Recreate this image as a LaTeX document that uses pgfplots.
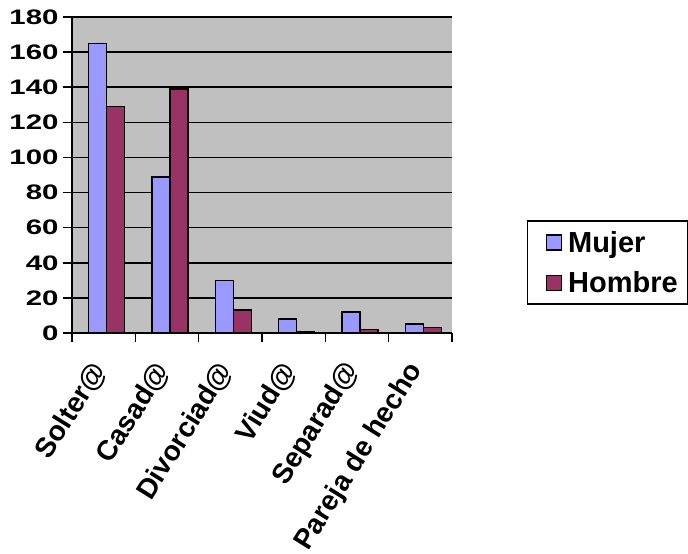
\documentclass[border=0pt]{standalone}
\usepackage{pgfplots}
\pgfplotsset{compat=1.18}
\usepackage{fontspec}
\setmainfont{Liberation Sans}
\newfontfamily\tickfont[FakeStretch=1.4,BoldFont={Liberation Sans Bold}]{Liberation Sans}
\definecolor{mujer}{HTML}{9999FF}
\definecolor{hombre}{HTML}{993366}
\definecolor{wall}{HTML}{C0C0C0}
\begin{document}
\begin{tikzpicture}
\begin{axis}[
  scale only axis,
  width=380pt, height=316pt,
  xmin=-0.5, xmax=5.5,
  ymin=0, ymax=180,
  ytick={0,20,...,180},
  xtick={0,1,2,3,4,5},
  xticklabels={Solter@,Casad@,Divorciad@,Viud@,Separad@,Pareja de hecho},
  minor xtick={-0.5,0.5,1.5,2.5,3.5,4.5,5.5},
  major x tick style={draw=none},
  minor tick length=9pt,
  major tick length=9pt,
  tick align=outside,
  tick style={black, line width=1.5pt},
  axis background/.style={fill=wall},
  axis x line*=bottom, axis y line*=left,
  axis line style={black, line width=1.5pt},
  ymajorgrids, grid style={black, line width=1.5pt},
  /pgf/number format/assume math mode=true,
  yticklabel style={font=\tickfont\bfseries\fontsize{21}{21}\selectfont, xshift=-1pt},
  xticklabel style={font=\bfseries\fontsize{28}{28}\selectfont, xshift=-2pt, yshift=-21pt, rotate=58, anchor=east},
  ybar, bar width=18pt,
  legend style={at={(1.197,0.089)}, anchor=south west, draw=black, line width=1.5pt,
    font=\bfseries\fontsize{29}{29}\selectfont, row sep=14pt, inner xsep=6pt, inner ysep=8pt,
    nodes={inner xsep=4pt}},
  legend cell align=left,
  legend image code/.code={\path (0pt,0pt) (29pt,0pt); \draw[#1, draw=black, line width=1.5pt] (12pt,-7.5pt) rectangle (27pt,7.5pt);},
]
\addplot[fill=mujer, draw=black, line width=1.5pt, bar shift=-6pt] coordinates {(0,165) (1,89) (2,30) (3,8) (4,12) (5,5)};
\addplot[fill=hombre, draw=black, line width=1.5pt, bar shift=12pt] coordinates {(0,129) (1,139) (2,13) (3,0.5) (4,2) (5,3)};
\legend{Mujer,Hombre}
\end{axis}
\pgfresetboundingbox
\path[use as bounding box] (-72pt,-221pt) rectangle (616pt,333pt);
\end{tikzpicture}
\end{document}
